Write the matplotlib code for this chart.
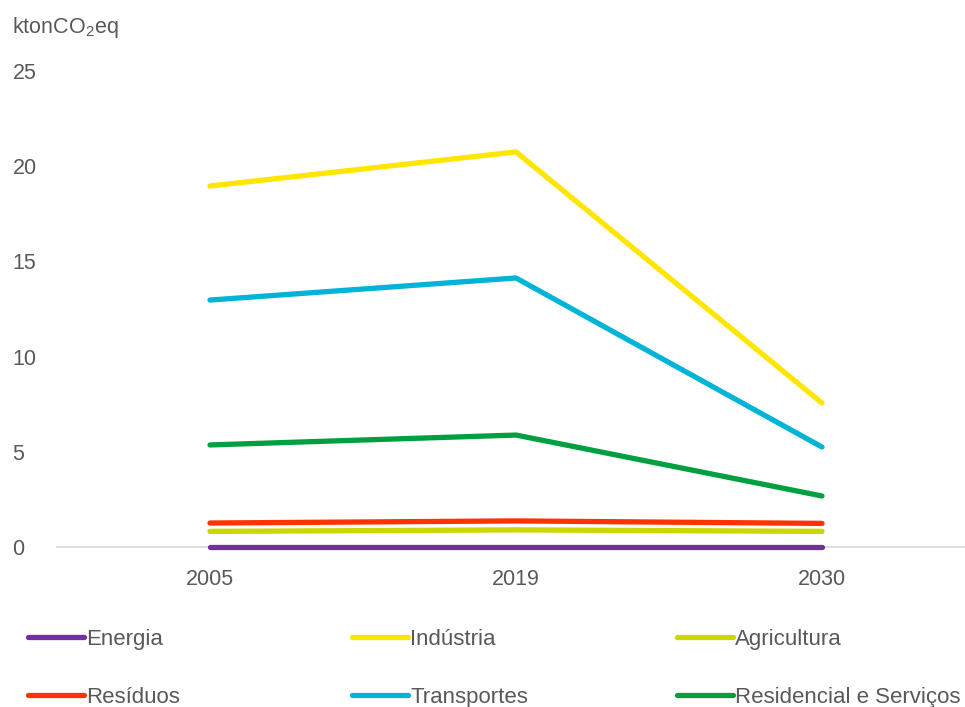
import matplotlib
matplotlib.use("Agg")
import matplotlib.pyplot as plt
from matplotlib.lines import Line2D

# ── data ──────────────────────────────────────────
years = ["2005", "2019", "2030"]
energia = [0.02, 0.02, 0.02]
industria = [18.96, 20.75, 7.56]
agricultura = [0.82, 0.90, 0.82]
residuos = [1.26, 1.37, 1.24]
transportes = [12.97, 14.13, 5.25]
residencial = [5.36, 5.88, 2.68]

series = [
    ("Energia", energia, "#7030A0"),
    ("Indústria", industria, "#FFE600"),
    ("Agricultura", agricultura, "#CCD600"),
    ("Resíduos", residuos, "#FF3300"),
    ("Transportes", transportes, "#00B4D8"),
    ("Residencial e Serviços", residencial, "#00A040"),
]
yticks = [0, 5, 10, 15, 20, 25]

plt.rcParams["font.family"] = ["Liberation Sans", "DejaVu Sans"]
plt.rcParams["mathtext.default"] = "regular"
TXT = "#595959"
FS = 15.5

fig = plt.figure(figsize=(9.65, 7.07), dpi=100)
ax = fig.add_axes([57 / 965, 1 - 547 / 707, 918 / 965, 476 / 707])

x = list(range(len(years)))
for name, vals, col in reversed(series):
    ax.plot(x, vals, color=col, lw=3.8, solid_capstyle="round", label=name,
            zorder=3, clip_on=False)

ax.set_xlim(-0.5, 2.5)
ax.set_ylim(0, 25)
ax.set_xticks(x)
ax.set_xticklabels(years)
ax.set_yticks(yticks)
ax.tick_params(length=0, labelsize=FS, colors=TXT)
ax.tick_params(axis="x", pad=16)
ax.tick_params(axis="y", pad=32)
for lab in ax.get_yticklabels():
    lab.set_horizontalalignment("left")
for s in ["top", "right", "left"]:
    ax.spines[s].set_visible(False)
ax.spines["bottom"].set_color("#D9D9D9")
ax.spines["bottom"].set_linewidth(1.2)
ax.spines["bottom"].set_zorder(1)

fig.text(12 / 965, 1 - 28 / 707, "ktonCO$_2$eq", fontsize=FS, color=TXT, va="center", ha="left")

# legend: 2 rows x 3 columns, anchored on the bottom so baselines line up
pos_x = [28, 352, 677]
pos_y = [650, 708]
for i, (name, vals, col) in enumerate(series):
    h = Line2D([], [], color=col, lw=3.8, solid_capstyle="round")
    fig.legend(handles=[h], labels=[name], loc="lower left",
               bbox_to_anchor=(pos_x[i % 3] / 965, 1 - pos_y[i // 3] / 707),
               frameon=False, fontsize=16, labelcolor=TXT,
               handlelength=2.5, handletextpad=0.12, borderpad=0, borderaxespad=0)

fig.savefig("out.png", dpi=100)
